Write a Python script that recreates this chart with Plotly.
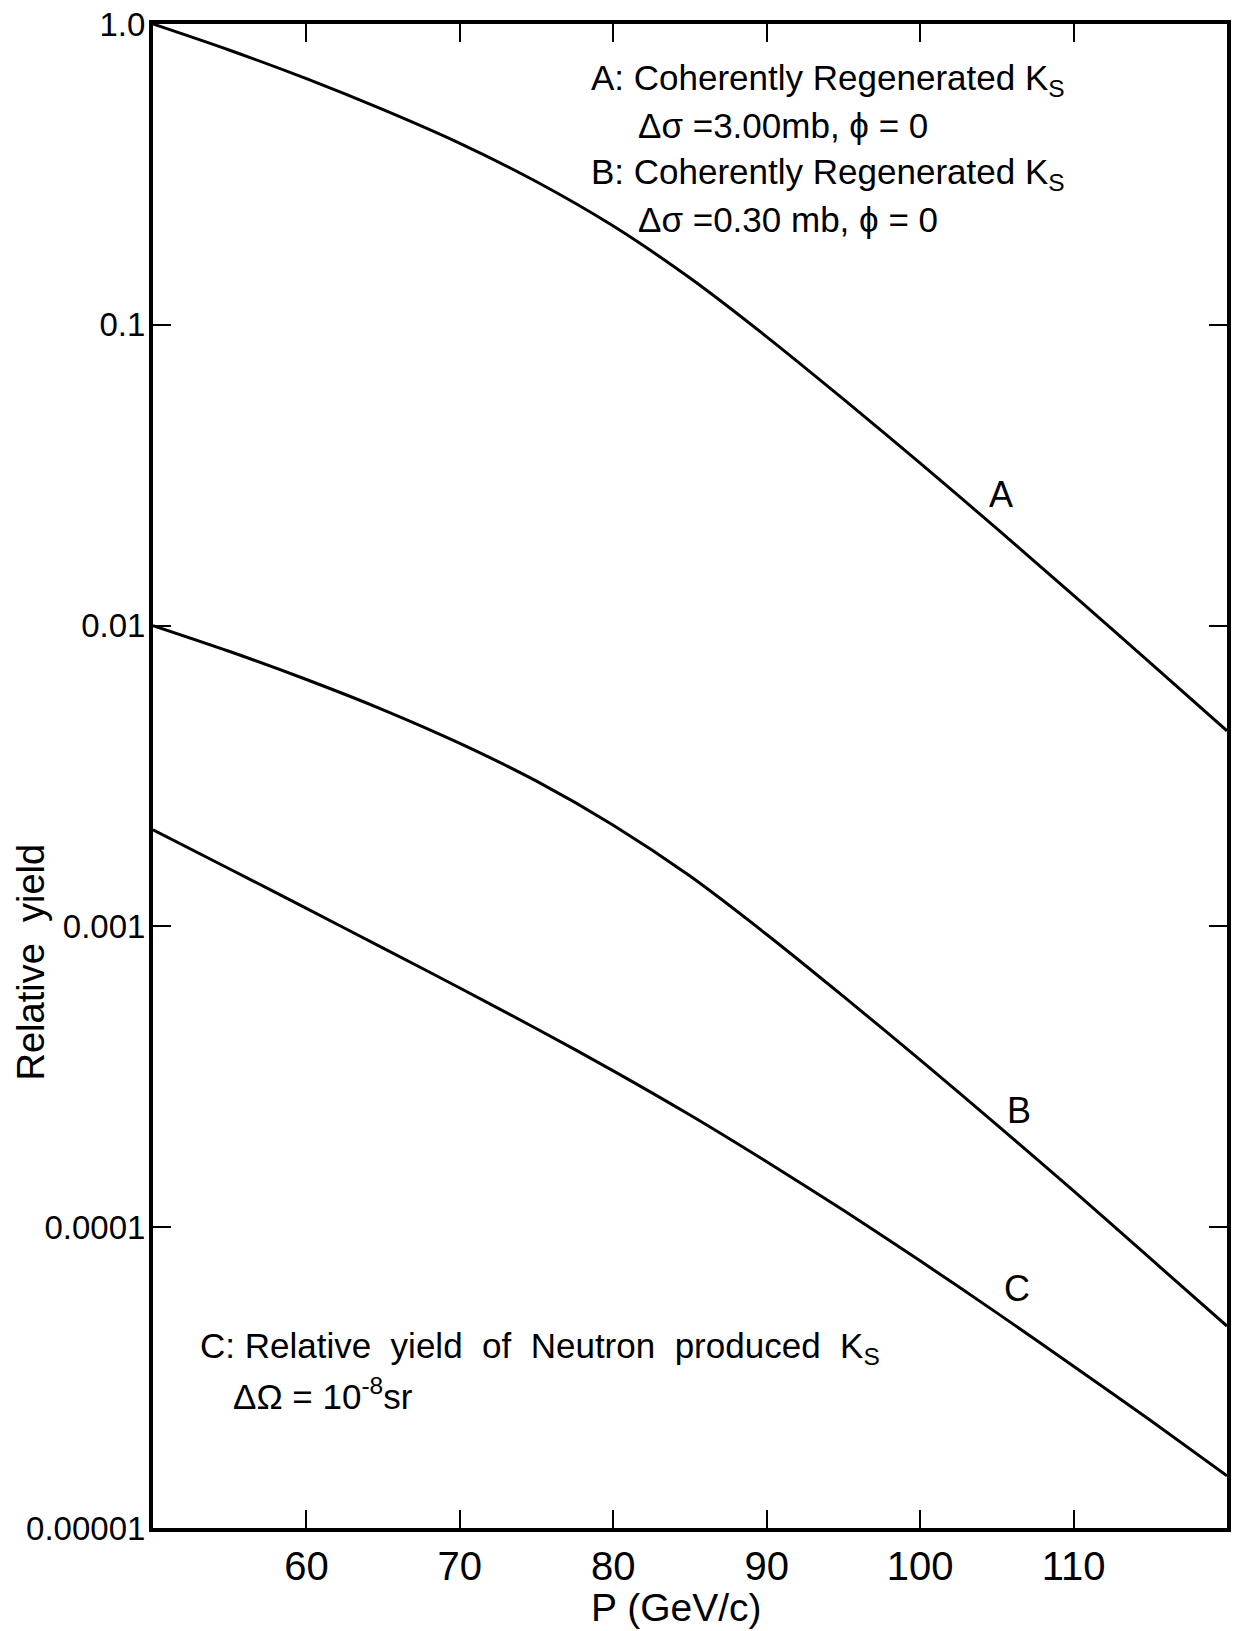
import plotly.graph_objects as go

# ---- data (P in GeV/c, relative yield) ----
p_values = [50, 55, 60, 65, 70, 75, 80, 85, 90, 95, 100, 105, 110, 115, 120]

yield_A = [1.0, 0.818, 0.658, 0.519, 0.401, 0.299, 0.213, 0.143, 0.0912, 0.0566,
           0.0347, 0.0210, 0.0126, 0.00752, 0.00447]
yield_B = [0.0100, 0.00820, 0.00662, 0.00525, 0.00406, 0.00304, 0.00217, 0.00147,
           0.000940, 0.000585, 0.000360, 0.000219, 0.000132, 0.0000787, 0.0000469]
yield_C = [0.002094, 0.001552, 0.001148, 0.000847, 0.000624, 0.000457, 0.000331,
           0.000236, 0.000165, 0.0001138, 0.0000773, 0.0000519, 0.0000345,
           0.0000228, 0.0000149]

x_ticks = [60, 70, 80, 90, 100, 110]
x_tick_labels = ["60", "70", "80", "90", "100", "110"]
y_ticks = [1.0, 0.1, 0.01, 0.001, 0.0001, 0.00001]
y_tick_labels = ["1.0", "0.1", "0.01", "0.001", "0.0001", "0.00001"]

curve_names = ["A", "B", "C"]
curve_values = [yield_A, yield_B, yield_C]

legend_lines = [
    "A: Coherently Regenerated K<sub>S</sub>",
    "Δσ =3.00mb, ϕ = 0",
    "B: Coherently Regenerated K<sub>S</sub>",
    "Δσ =0.30 mb, ϕ = 0",
]
c_lines = [
    "C: Relative  yield  of  Neutron  produced  K<sub>S</sub>",
    "ΔΩ = 10<sup>-8</sup>sr",
]

TEXT_FONT = "Liberation Sans, Arial, sans-serif"
NUM_FONT = "Liberation Sans, Arial, sans-serif"

fig = go.Figure()
for name, vals in zip(curve_names, curve_values):
    fig.add_trace(go.Scatter(
        x=p_values, y=vals, mode="lines", name=name,
        line=dict(color="black", width=3, shape="spline", smoothing=0.8),
        showlegend=False, hoverinfo="skip",
    ))

W, H = 1234, 1631
L, R, T, B = 153, 3, 24, 103
pw, ph = W - L - R, H - T - B


def px(xp):
    return (xp - L) / pw


def py(yp):
    return (H - B - yp) / ph


annotations = []
# top-right description
legend_pos = [(591, 80), (638, 125), (591, 174), (638, 219)]
for txt, (ax, ay) in zip(legend_lines, legend_pos):
    annotations.append(dict(text=txt, x=px(ax), y=py(ay), xref="paper", yref="paper",
                            xanchor="left", yanchor="middle", showarrow=False,
                            font=dict(family=TEXT_FONT, size=35, color="black")))
# bottom-left description
c_pos = [(198, 1348), (231, 1394)]
for txt, (ax, ay) in zip(c_lines, c_pos):
    annotations.append(dict(text=txt, x=px(ax), y=py(ay), xref="paper", yref="paper",
                            xanchor="left", yanchor="middle", showarrow=False,
                            font=dict(family=TEXT_FONT, size=35, color="black")))
# curve labels
label_pos = [(1004, 494), (1022, 1110), (1020, 1288)]
for name, (ax, ay) in zip(curve_names, label_pos):
    annotations.append(dict(text=name, x=px(ax), y=py(ay), xref="paper", yref="paper",
                            xanchor="center", yanchor="middle", showarrow=False,
                            font=dict(family=TEXT_FONT, size=36, color="black")))
# axis titles
annotations.append(dict(text="P (GeV/c)", x=px(678), y=py(1608), xref="paper", yref="paper",
                        xanchor="center", yanchor="middle", showarrow=False,
                        font=dict(family=TEXT_FONT, size=39, color="black")))
annotations.append(dict(text="Relative  yield", x=px(31), y=py(962), xref="paper", yref="paper",
                        xanchor="center", yanchor="middle", showarrow=False, textangle=-90,
                        font=dict(family=TEXT_FONT, size=38, color="black")))

fig.update_layout(
    width=W, height=H,
    margin=dict(l=L, r=R, t=T, b=B, pad=0),
    paper_bgcolor="white", plot_bgcolor="white",
    annotations=annotations,
    xaxis=dict(range=[50, 120], tickvals=x_ticks, ticktext=x_tick_labels,
               ticks="inside", ticklen=18, tickwidth=2, tickcolor="black",
               showline=True, linewidth=4, linecolor="black", mirror="ticks",
               showgrid=False, zeroline=False,
               tickfont=dict(family=NUM_FONT, size=40, color="black")),
    yaxis=dict(type="log", range=[-5, 0], tickvals=y_ticks, ticktext=y_tick_labels,
               ticks="inside", ticklen=18, tickwidth=2, tickcolor="black",
               showline=True, linewidth=4, linecolor="black", mirror="ticks",
               showgrid=False, zeroline=False, ticklabelstandoff=-3,
               tickfont=dict(family=NUM_FONT, size=33, color="black")),
)

fig.write_html("out.html")
